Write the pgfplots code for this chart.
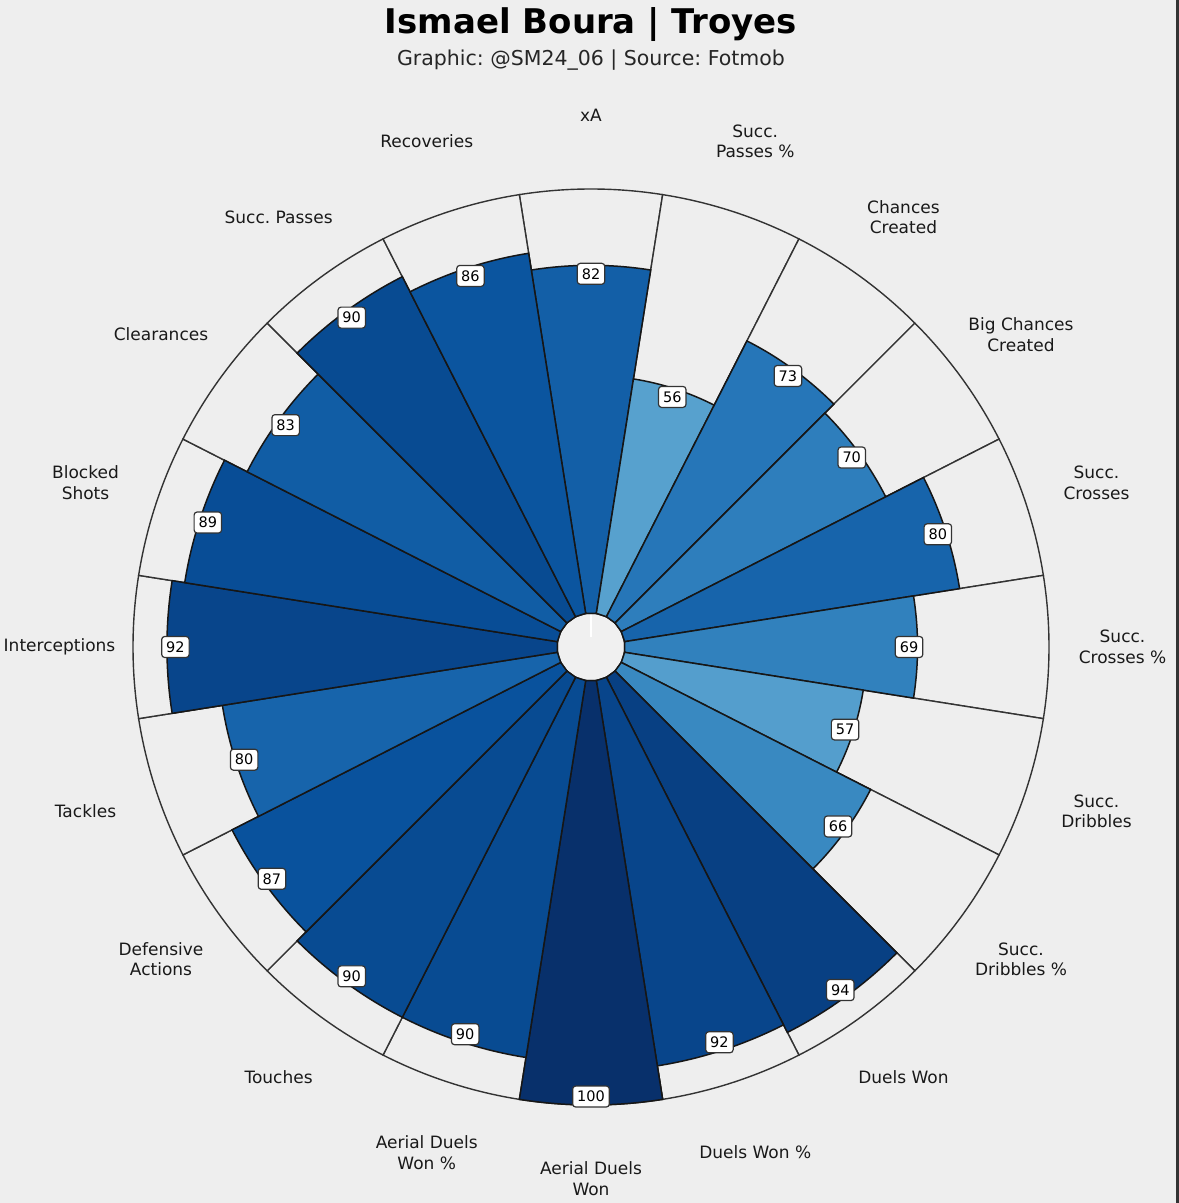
\documentclass[border=0pt]{standalone}
\usepackage{pgfplots}
\pgfplotsset{compat=1.18}
\usepackage{pgfplotstable}
\usepgfplotslibrary{polar}
\usepackage{fontspec}
\setmainfont{DejaVu Sans}
\frenchspacing

\definecolor{bg}{HTML}{EEEEEE}
\definecolor{hole}{HTML}{F0F0F0}
\definecolor{edge}{HTML}{161616}
\definecolor{ring}{HTML}{333333}

% angle (deg, clockwise from top) and percentile value
\pgfplotstableread{
ang v
90 82
72 56
54 73
36 70
18 80
0 69
-18 57
-36 66
-54 94
-72 92
-90 100
-108 90
-126 90
-144 87
-162 80
180 92
162 89
144 83
126 90
108 86
}\stats

\newcommand\pxu{4.2407}% bp per radial unit (hole = 8 units)
\tikzset{cat/.style={align=center, anchor=center, text=black!90,
    font=\fontsize{17bp}{20.5bp}\selectfont}}

% a slice of the pizza, drawn from the mark position (its outer radius \wr) back to the centre
\pgfdeclareplotmark{slice}{%
  \pgfmathsetmacro\rr{\wr*\pxu}%
  \pgfmathsetmacro\aa{\wang-9}%
  \pgfmathsetmacro\ab{\wang+9}%
  \pgfmathsetmacro\ac{\wang+180}%
  \pgfpathmoveto{\pgfpointadd{\pgfpointpolar{\ac}{\rr bp}}{\pgfpointpolar{\aa}{34bp}}}%
  \pgfpathlineto{\pgfpointadd{\pgfpointpolar{\ac}{\rr bp}}{\pgfpointpolar{\aa}{\rr bp}}}%
  \pgfpatharc{\aa}{\ab}{\rr bp}%
  \pgfpathlineto{\pgfpointadd{\pgfpointpolar{\ac}{\rr bp}}{\pgfpointpolar{\ab}{34bp}}}%
  \pgfpathclose
  \pgfusepathqfillstroke
}

\begin{document}
\begin{tikzpicture}
\fill[bg] (0,0) rectangle (1179bp,1203bp);
\fill[black!80] (1176bp,0) rectangle (1179bp,1203bp);
\node[anchor=base, font=\fontsize{34bp}{40bp}\selectfont\bfseries] at (591bp,1169.5bp) {Ismael Boura | Troyes};
\node[anchor=base, font=\fontsize{20.5bp}{24bp}\selectfont, text=black!85] at (591bp,1137.5bp) {Graphic: @SM24\_06 | Source: Fotmob};

\begin{axis}[
    at={(591bp,556bp)}, anchor=center,
    x=\pxu bp, y=\pxu bp,
    xmin=-110, xmax=110, ymin=-110, ymax=110,
    hide axis, clip=false,
    colormap={blues}{rgb255=(247,251,255) rgb255=(222,235,247) rgb255=(198,219,239)
        rgb255=(158,202,225) rgb255=(107,174,214) rgb255=(66,146,198)
        rgb255=(33,113,181) rgb255=(8,81,156) rgb255=(8,48,107)},
    point meta min=0, point meta max=100,
]
% background slices
\addplot[scatter, only marks, mark=slice, data cs=polar, point meta=explicit,
    scatter/use mapped color={draw=ring, fill=bg},
    mark options={line width=1.4bp},
    visualization depends on={\thisrow{ang} \as \wang},
    visualization depends on={108 \as \wr},
] table[x=ang, y expr=108, meta=v] {\stats};

% value slices
\addplot[scatter, only marks, mark=slice, data cs=polar, point meta=explicit,
    scatter/use mapped color={draw=edge, fill=mapped color},
    mark options={line width=1.5bp},
    visualization depends on={\thisrow{ang} \as \wang},
    visualization depends on={\thisrow{v}+8 \as \wr},
] table[x=ang, y expr=\thisrow{v}+8, meta=v] {\stats};

\draw[fill=hole, draw=ring, line width=1.4bp] (axis cs:0,0) circle[radius=34bp];
\draw[white, line width=1.6bp] ([yshift=33bp]axis cs:0,0) -- ([yshift=10bp]axis cs:0,0);

% value boxes
\addplot[draw=none, mark=none, data cs=polar, point meta=explicit,
    nodes near coords={\pgfmathprintnumber[assume math mode=true]{\pgfplotspointmeta}},
    nodes near coords style={anchor=center, fill=white, draw=ring, line width=1.2bp,
        rounded corners=3bp, inner xsep=4.5bp, inner ysep=5bp, text=black,
        font=\fontsize{14.5bp}{17bp}\selectfont},
] table[x=ang, y expr=\thisrow{v}+6, meta=v] {\stats};

% category names
\node[cat] at ([shift={(90:531.5bp)}]axis cs:0,0) {xA};
\node[cat] at ([shift={(72:531.5bp)}]axis cs:0,0) {Succ.\\Passes \%};
\node[cat] at ([shift={(54:531.5bp)}]axis cs:0,0) {Chances\\Created};
\node[cat] at ([shift={(36:531.5bp)}]axis cs:0,0) {Big Chances\\Created};
\node[cat] at ([shift={(18:531.5bp)}]axis cs:0,0) {Succ.\\Crosses};
\node[cat] at ([shift={(0:531.5bp)}]axis cs:0,0) {Succ.\\Crosses \%};
\node[cat] at ([shift={(-18:531.5bp)}]axis cs:0,0) {Succ.\\Dribbles};
\node[cat] at ([shift={(-36:531.5bp)}]axis cs:0,0) {Succ.\\Dribbles \%};
\node[cat] at ([shift={(-54:531.5bp)}]axis cs:0,0) {Duels Won};
\node[cat] at ([shift={(-72:531.5bp)}]axis cs:0,0) {Duels Won \%};
\node[cat] at ([shift={(-90:531.5bp)}]axis cs:0,0) {Aerial Duels\\Won};
\node[cat] at ([shift={(-108:531.5bp)}]axis cs:0,0) {Aerial Duels\\Won \%};
\node[cat] at ([shift={(-126:531.5bp)}]axis cs:0,0) {Touches};
\node[cat] at ([shift={(-144:531.5bp)}]axis cs:0,0) {Defensive\\Actions};
\node[cat] at ([shift={(-162:531.5bp)}]axis cs:0,0) {Tackles};
\node[cat] at ([shift={(180:531.5bp)}]axis cs:0,0) {Interceptions};
\node[cat] at ([shift={(162:531.5bp)}]axis cs:0,0) {Blocked\\Shots};
\node[cat] at ([shift={(144:531.5bp)}]axis cs:0,0) {Clearances};
\node[cat] at ([shift={(126:531.5bp)}]axis cs:0,0) {Succ. Passes};
\node[cat] at ([shift={(108:531.5bp)}]axis cs:0,0) {Recoveries};
\end{axis}
\end{tikzpicture}
\end{document}
